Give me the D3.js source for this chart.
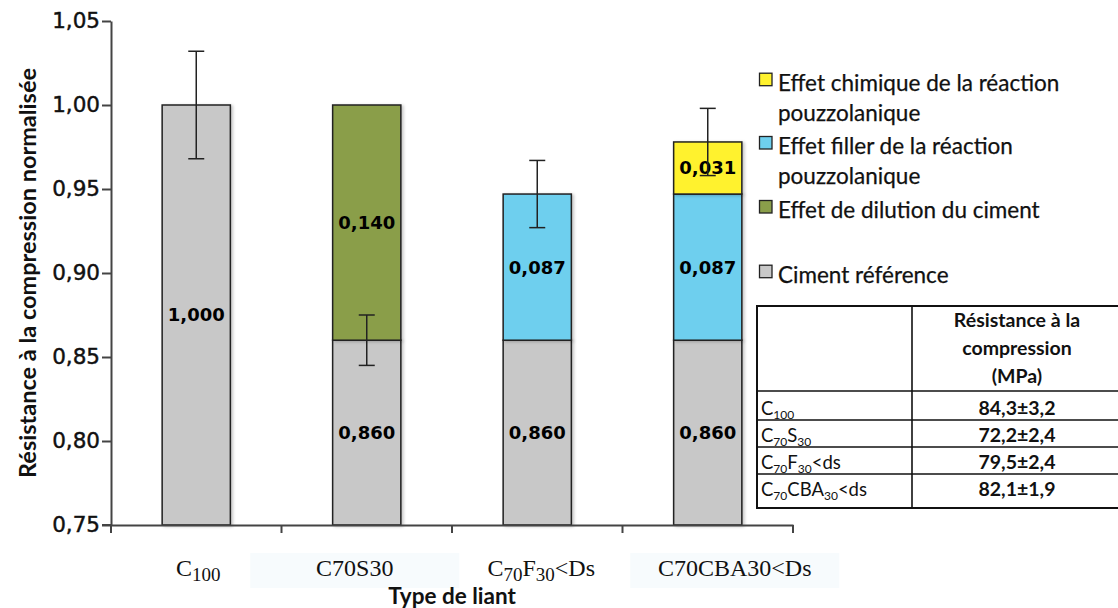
<!DOCTYPE html>
<html>
<head>
<meta charset="utf-8">
<script src="https://cdn.jsdelivr.net/npm/d3@7"></script>
<style>
  html, body { margin: 0; padding: 0; background: #fff; }
  svg { display: block; }
</style>
</head>
<body>
<svg id="chart" width="1118" height="608"></svg>
<script>
// ---------- data ----------
const categories = ["C100", "C70S30", "C70F30<Ds", "C70CBA30<Ds"];
const cimentReference = [1.000, 0.860, 0.860, 0.860];
const effetDilution   = [0.000, 0.140, 0.000, 0.000];
const effetFiller     = [0.000, 0.000, 0.087, 0.087];
const effetChimique   = [0.000, 0.000, 0.000, 0.031];
const errorCenter     = [1.000, 0.860, 0.947, 0.978];
const errorHalf       = [0.032, 0.015, 0.020, 0.020];
const yTicks = [0.75, 0.80, 0.85, 0.90, 0.95, 1.00, 1.05];
const seriesNames = ["Ciment référence", "Effet de dilution du ciment",
  "Effet filler de la réaction pouzzolanique", "Effet chimique de la réaction pouzzolanique"];
// rich x labels: [text, isSubscript]
const xLabelParts = [
  [["C",0],["100",1]],
  [["C70S30",0]],
  [["C",0],["70",1],["F",0],["30",1],["<Ds",0]],
  [["C70CBA30<Ds",0]]
];
const tableHeader = ["Résistance à la", "compression", "(MPa)"];
const tableRowParts = [
  [["C",0],["100",1]],
  [["C",0],["70",1],["S",0],["30",1]],
  [["C",0],["70",1],["F",0],["30",1],["<ds",0]],
  [["C",0],["70",1],["CBA",0],["30",1],["<ds",0]]
];
const tableValues = ["84,3±3,2", "72,2±2,4", "79,5±2,4", "82,1±1,9"];

// ---------- layout / style ----------
const colors = ["#c8c8c8", "#8a9e4a", "#6ecfee", "#fff22e"];
const X0 = 111, X1 = 793, Y0 = 525, Y1 = 21;
const labelShift = [2, -12, 4, 27];
const labelBoxes = [false, true, false, true];

const svg = d3.select("#chart");
const fmt = d3.formatLocale({decimal: ",", thousands: " ", grouping: [3], currency: ["", ""]});
const f2 = fmt.format(".2f"), f3 = fmt.format(".3f");

const defs = svg.append("defs");
const flt = defs.append("filter").attr("id", "sh").attr("x", "-20%").attr("y", "-5%").attr("width", "150%").attr("height", "115%");
flt.append("feDropShadow").attr("dx", 2).attr("dy", 1).attr("stdDeviation", 1.8).attr("flood-color", "#000").attr("flood-opacity", 0.22);

const x = d3.scaleBand().domain(categories).range([X0, X1]).padding(0);
const y = d3.scaleLinear().domain([0.75, 1.05]).range([Y0, Y1]);
const barW = x.bandwidth() * 0.4;

// stacked data
const stackRows = categories.map((c, i) => ({cat: c, s0: cimentReference[i], s1: effetDilution[i], s2: effetFiller[i], s3: effetChimique[i]}));
const stack = d3.stack().keys(["s0","s1","s2","s3"])(stackRows);

// x label background boxes
svg.append("g").selectAll("rect").data(categories.filter((c,i)=>labelBoxes[i])).join("rect")
  .attr("x", d => x(d) + x.bandwidth()/2 + labelShift[categories.indexOf(d)] - 104.5)
  .attr("y", 553).attr("width", 209).attr("height", 35)
  .attr("fill", "#f7fbfd");

// bars
const gBars = svg.append("g");
stack.forEach((layer, li) => {
  gBars.append("g").selectAll("rect").data(layer.filter(d => d[1] - d[0] > 0)).join("rect")
    .attr("x", d => x(d.data.cat) + (x.bandwidth() - barW) / 2)
    .attr("y", d => y(d[1]))
    .attr("width", barW)
    .attr("height", d => y(Math.max(d[0], 0.75)) - y(d[1]))
    .attr("fill", colors[li])
    .attr("stroke", "#222").attr("stroke-width", 1.5)
    .attr("filter", "url(#sh)");
});

// segment labels
const gLab = svg.append("g").attr("font-family", "DejaVu Sans").attr("font-weight", "bold")
  .attr("font-size", 18).attr("fill", "#000").attr("text-anchor", "middle");
stack.forEach(layer => {
  gLab.append("g").selectAll("text").data(layer.filter(d => d[1] - d[0] > 0)).join("text")
    .attr("x", d => x(d.data.cat) + x.bandwidth() / 2)
    .attr("y", d => y((Math.max(d[0], 0.75) + d[1]) / 2))
    .attr("dy", "0.36em")
    .text(d => f3(d[1] - d[0]));
});

// error bars
const gErr = svg.append("g").attr("stroke", "#222").attr("stroke-width", 1.5);
categories.forEach((c, i) => {
  const cx = x(c) + x.bandwidth() / 2;
  const top = y(errorCenter[i] + errorHalf[i]), bot = y(errorCenter[i] - errorHalf[i]);
  gErr.append("line").attr("x1", cx).attr("x2", cx).attr("y1", top).attr("y2", bot);
  gErr.append("line").attr("x1", cx - 8).attr("x2", cx + 8).attr("y1", top).attr("y2", top);
  gErr.append("line").attr("x1", cx - 8).attr("x2", cx + 8).attr("y1", bot).attr("y2", bot);
});

// y axis
const yAxis = svg.append("g").attr("transform", `translate(${X0},0)`)
  .call(d3.axisLeft(y).tickValues(yTicks).tickFormat(f2).tickSize(9).tickPadding(2).tickSizeOuter(0));
yAxis.select(".domain").attr("stroke", "#444").attr("stroke-width", 2);
yAxis.selectAll(".tick line").attr("stroke", "#444").attr("stroke-width", 2);
yAxis.selectAll(".tick text").attr("font-family", "DejaVu Sans").attr("font-size", 21.5)
  .attr("fill", "#111").attr("stroke", "#111").attr("stroke-width", 0.45);

// x axis
const xAxis = svg.append("g").attr("transform", `translate(0,${Y0})`)
  .call(d3.axisBottom(x).tickSize(0).tickFormat(""));
xAxis.select(".domain").attr("stroke", "#444").attr("stroke-width", 2);
xAxis.selectAll(".tick line").remove();
const bounds = [X0].concat(categories.map(c => x(c) + x.bandwidth()));
xAxis.selectAll("line.bt").data(bounds).join("line").attr("class", "bt")
  .attr("x1", d => d).attr("x2", d => d).attr("y1", 0).attr("y2", 8)
  .attr("stroke", "#444").attr("stroke-width", 2);
xAxis.append("line").attr("x1", X0 - 9).attr("x2", X0).attr("y1", 0).attr("y2", 0)
  .attr("stroke", "#444").attr("stroke-width", 2);

// rich text with subscripts
function richText(sel, parts, subSize, shift) {
  parts.forEach(([t, sub], k) => {
    const ts = sel.append("tspan").text(t);
    if (sub) {
      ts.attr("font-size", subSize).attr("dy", k === 0 ? 0 : shift);
    } else if (k > 0 && parts[k-1][1]) {
      ts.attr("dy", -shift);
    }
  });
}
categories.forEach((c, i) => {
  const t = svg.append("text")
    .attr("x", x(c) + x.bandwidth() / 2 + labelShift[i]).attr("y", 576)
    .attr("text-anchor", "middle").attr("font-family", "Liberation Serif")
    .attr("font-size", 24).attr("fill", "#111");
  richText(t, xLabelParts[i], 19, 5);
});

// axis titles
svg.append("text").attr("x", 452).attr("y", 604).attr("text-anchor", "middle")
  .attr("font-family", "Lato").attr("font-weight", "bold").attr("font-size", 22.5).attr("fill", "#111")
  .text("Type de liant");
svg.append("text").attr("transform", `translate(36,${(Y0 + Y1) / 2}) rotate(-90)`)
  .attr("text-anchor", "middle").attr("font-family", "Lato").attr("font-weight", "bold")
  .attr("font-size", 23.5).attr("fill", "#111")
  .text("Résistance à la compression normalisée");

// legend
const legendItems = [
  {c: colors[3], lines: ["Effet chimique de la réaction", "pouzzolanique"], y: 90.7},
  {c: colors[2], lines: ["Effet filler de la réaction", "pouzzolanique"], y: 154},
  {c: colors[1], lines: ["Effet de dilution du ciment"], y: 218},
  {c: colors[0], lines: ["Ciment référence"], y: 282.7}
];
const gLeg = svg.append("g");
legendItems.forEach(it => {
  gLeg.append("rect").attr("x", 759.5).attr("y", it.y - 17.5).attr("width", 12.5).attr("height", 12.5)
    .attr("fill", it.c).attr("stroke", "#222").attr("stroke-width", 1.3);
  const t = gLeg.append("text").attr("x", 778).attr("y", it.y).attr("font-family", "Lato")
    .attr("font-size", 22.5).attr("fill", "#111").attr("stroke", "#111").attr("stroke-width", 0.25);
  it.lines.forEach((l, k) => t.append("tspan").attr("x", 778).attr("dy", k ? 30 : 0).text(l));
});

// table
const gT = svg.append("g");
const tL = 757, tR = 1124, tDiv = 912, cx2 = 1017;
const rowLines = [306, 391, 420, 447, 474, 508];
gT.append("rect").attr("x", tL).attr("y", rowLines[0]).attr("width", tR - tL).attr("height", rowLines[5] - rowLines[0])
  .attr("fill", "#fff").attr("stroke", "#111").attr("stroke-width", 2);
rowLines.slice(1, 5).forEach(yy => gT.append("line").attr("x1", tL).attr("x2", tR).attr("y1", yy).attr("y2", yy)
  .attr("stroke", "#111").attr("stroke-width", 1.6));
gT.append("line").attr("x1", tDiv).attr("x2", tDiv).attr("y1", rowLines[0]).attr("y2", rowLines[5])
  .attr("stroke", "#111").attr("stroke-width", 1.6);
tableHeader.forEach((h, k) => gT.append("text").attr("x", cx2).attr("y", 326.5 + k * 28)
  .attr("text-anchor", "middle").attr("font-family", "Lato").attr("font-weight", "bold")
  .attr("font-size", 19.5).attr("fill", "#111").text(h));
const rowBase = [415, 442, 469, 496];
tableRowParts.forEach((parts, i) => {
  const t = gT.append("text").attr("x", 761).attr("y", rowBase[i]).attr("font-family", "Lato")
    .attr("font-size", 18.5).attr("fill", "#111");
  richText(t, parts, 12, 3.5);
  gT.append("text").attr("x", cx2).attr("y", rowBase[i]).attr("text-anchor", "middle")
    .attr("font-family", "Lato").attr("font-weight", "bold").attr("font-size", 19.5).attr("fill", "#111")
    .text(tableValues[i]);
});
</script>
</body>
</html>
